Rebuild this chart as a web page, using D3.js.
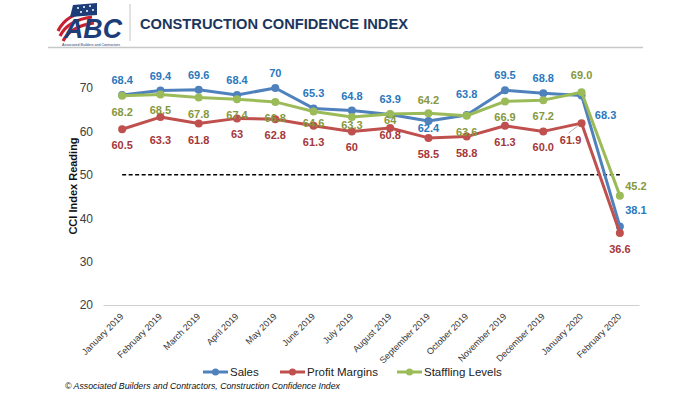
<!DOCTYPE html>
<html>
<head>
<meta charset="utf-8">
<script src="https://cdn.jsdelivr.net/npm/d3@7/dist/d3.min.js"></script>
<style>
  html, body { margin: 0; padding: 0; background: #fff; }
  svg { display: block; font-family: "Liberation Sans", Arial, sans-serif; }
</style>
</head>
<body>
<div id="chart"></div>
<script>
// data
var months = ["January 2019", "February 2019", "March 2019", "April 2019", "May 2019", "June 2019",
  "July 2019", "August 2019", "September 2019", "October 2019", "November 2019", "December 2019",
  "January 2020", "February 2020"];
var sales = [68.4, 69.4, 69.6, 68.4, 70, 65.3, 64.8, 63.9, 62.4, 63.8, 69.5, 68.8, 68.3, 38.1];
var profitMargins = [60.5, 63.3, 61.8, 63, 62.8, 61.3, 60, 60.8, 58.5, 58.8, 61.3, 60.0, 61.9, 36.6];
var staffingLevels = [68.2, 68.5, 67.8, 67.4, 66.8, 64.6, 63.3, 64, 64.2, 63.6, 66.9, 67.2, 69.0, 45.2];
var yTicks = [20, 30, 40, 50, 60, 70];
var threshold = 50;

(function() {
  var W = 700, H = 395;

  var svg = d3.select("#chart").append("svg")
    .attr("width", W)
    .attr("height", H);

  svg.append("rect").attr("width", W).attr("height", H).attr("fill", "#fff");

  // ---- header -------------------------------------------------------
  var logo = svg.append("g");
  [[58, 31, 90, 11], [60, 36, 92, 17], [63, 41, 94, 23]].forEach(function(s) {
    logo.append("path")
      .attr("d", "M" + s[0] + "," + s[1] + " Q" + (s[0] + 8) + "," + (s[3] + 3) + " " + s[2] + "," + s[3])
      .attr("fill", "none")
      .attr("stroke", "#c8202f")
      .attr("stroke-width", 3.2);
  });
  logo.append("path")
    .attr("d", "M73,5 L97,3 L97,15 L70,17 Z")
    .attr("fill", "#1d3d78");
  [[78, 8], [84, 7], [90, 6], [81, 12], [87, 11], [93, 10]].forEach(function(p) {
    logo.append("circle").attr("cx", p[0]).attr("cy", p[1]).attr("r", 1).attr("fill", "#fff");
  });
  logo.append("text")
    .attr("transform", "translate(64,37.5) scale(1,1.25)")
    .attr("font-size", 22)
    .attr("font-weight", "bold")
    .attr("font-style", "italic")
    .attr("fill", "#1d3d78")
    .attr("textLength", 58)
    .attr("lengthAdjust", "spacingAndGlyphs")
    .text("ABC");
  logo.append("text")
    .attr("x", 62).attr("y", 46.3)
    .attr("font-size", 3.2)
    .attr("fill", "#1d3d78")
    .attr("textLength", 58)
    .attr("lengthAdjust", "spacingAndGlyphs")
    .text("Associated Builders and Contractors");

  svg.append("line")
    .attr("x1", 130).attr("x2", 130).attr("y1", 4).attr("y2", 41)
    .attr("stroke", "#c4c4c4");

  svg.append("text")
    .attr("x", 140).attr("y", 29)
    .attr("font-size", 15)
    .attr("font-weight", "bold")
    .attr("fill", "#1b365d")
    .attr("textLength", 268)
    .attr("lengthAdjust", "spacingAndGlyphs")
    .text("CONSTRUCTION CONFIDENCE INDEX");

  svg.append("line")
    .attr("x1", 48).attr("x2", 643).attr("y1", 47.5).attr("y2", 47.5)
    .attr("stroke", "#c8c8c8")
    .attr("stroke-width", 1.5);

  // ---- scales ---------------------------------------------------------
  var x = d3.scaleBand().domain(months).range([103, 639]);
  var y = d3.scaleLinear().domain([20, 70]).range([305, 88]);
  var cx = function(i) { return x(months[i]) + x.bandwidth() / 2; };

  // y ticks, no axis line
  var yAxis = svg.append("g")
    .attr("transform", "translate(93,0)")
    .call(d3.axisLeft(y).tickValues(yTicks).tickSize(0).tickPadding(0));
  yAxis.select(".domain").remove();
  yAxis.selectAll("text")
    .attr("font-family", "Liberation Sans, Arial, sans-serif")
    .attr("font-size", 12)
    .attr("fill", "#404040");

  svg.append("text")
    .attr("transform", "translate(77,186) rotate(-90)")
    .attr("text-anchor", "middle")
    .attr("font-size", 11)
    .attr("font-weight", "bold")
    .attr("fill", "#111")
    .text("CCI Index Reading");

  // x axis, labels at -45deg
  var xAxis = svg.append("g")
    .attr("transform", "translate(0," + y(20) + ")")
    .call(d3.axisBottom(x).tickSize(0).tickPadding(0));
  xAxis.select(".domain").attr("stroke", "#d0d0d0").attr("stroke-width", 1.2);
  xAxis.selectAll("text")
    .attr("font-family", "Liberation Sans, Arial, sans-serif")
    .attr("font-size", 9)
    .attr("fill", "#333")
    .attr("text-anchor", "end")
    .attr("y", 0)
    .attr("dy", null)
    .attr("transform", "translate(2,12) rotate(-45)");

  // dashed 50 line
  svg.append("line")
    .attr("x1", cx(0)).attr("x2", cx(months.length - 1))
    .attr("y1", y(threshold)).attr("y2", y(threshold))
    .attr("stroke", "#000")
    .attr("stroke-width", 1.6)
    .attr("stroke-dasharray", "4,2.5");

  // ---- series ---------------------------------------------------------
  var series = [
    { name: "Sales", values: sales, line: "#4f81bd", label: "#2a78bd",
      off: [0, -15], special: { 8: [0, 7], 9: [0, -21], 12: [24, 20], 13: [16, -16] }, fixed: [] },
    { name: "Profit Margins", values: profitMargins, line: "#c0504d", label: "#a5373a",
      off: [0, 16], special: { 1: [0, 23], 7: [0, 7], 12: [-11, 17] }, fixed: [11] },
    { name: "Staffling Levels", values: staffingLevels, line: "#9bbb59", label: "#86983d",
      off: [0, 16], special: { 5: [0, 12], 6: [0, 8], 7: [0, 6], 8: [0, -13], 12: [0, -17], 13: [16, -10] }, fixed: [12] }
  ];

  var line = d3.line()
    .x(function(d, i) { return cx(i); })
    .y(function(d) { return y(d); });

  series.forEach(function(s) {
    var g = svg.append("g");
    g.append("path")
      .datum(s.values)
      .attr("d", line)
      .attr("fill", "none")
      .attr("stroke", s.line)
      .attr("stroke-width", 3)
      .attr("stroke-linejoin", "round");
    g.selectAll("circle")
      .data(s.values)
      .enter().append("circle")
      .attr("cx", function(d, i) { return cx(i); })
      .attr("cy", function(d) { return y(d); })
      .attr("r", 4)
      .attr("fill", s.line);
  });

  // leader line for January 2020 profit label
  svg.append("line")
    .attr("x1", cx(12) - 13).attr("y1", y(profitMargins[12]) + 10)
    .attr("x2", cx(12) - 4).attr("y2", y(profitMargins[12]) + 3)
    .attr("stroke", "#999")
    .attr("stroke-width", 0.8);

  // data labels
  series.forEach(function(s) {
    svg.append("g").selectAll("text")
      .data(s.values)
      .enter().append("text")
      .attr("x", function(d, i) { return cx(i) + (s.special[i] || s.off)[0]; })
      .attr("y", function(d, i) { return y(d) + (s.special[i] || s.off)[1]; })
      .attr("dy", "0.36em")
      .attr("text-anchor", "middle")
      .attr("font-size", 11)
      .attr("font-weight", "bold")
      .attr("fill", s.label)
      .text(function(d, i) { return s.fixed.indexOf(i) >= 0 ? d.toFixed(1) : String(d); });
  });

  // ---- legend ---------------------------------------------------------
  var legendX = [203, 280, 397];
  var legend = svg.append("g")
    .selectAll("g")
    .data(series)
    .enter().append("g")
    .attr("transform", function(d, i) { return "translate(" + legendX[i] + ",372)"; });
  legend.append("line")
    .attr("x1", 0).attr("x2", 25)
    .attr("stroke", function(d) { return d.line; })
    .attr("stroke-width", 3);
  legend.append("circle")
    .attr("cx", 12.5).attr("r", 3.5)
    .attr("fill", function(d) { return d.line; });
  legend.append("text")
    .attr("x", 27)
    .attr("dy", "0.36em")
    .attr("font-size", 11.5)
    .attr("fill", "#222")
    .text(function(d) { return d.name; });

  svg.append("text")
    .attr("x", 65).attr("y", 389)
    .attr("font-size", 9)
    .attr("font-style", "italic")
    .attr("fill", "#111")
    .attr("textLength", 275)
    .attr("lengthAdjust", "spacingAndGlyphs")
    .text("\u00a9 Associated Builders and Contractors, Construction Confidence Index");
})();
</script>
</body>
</html>
